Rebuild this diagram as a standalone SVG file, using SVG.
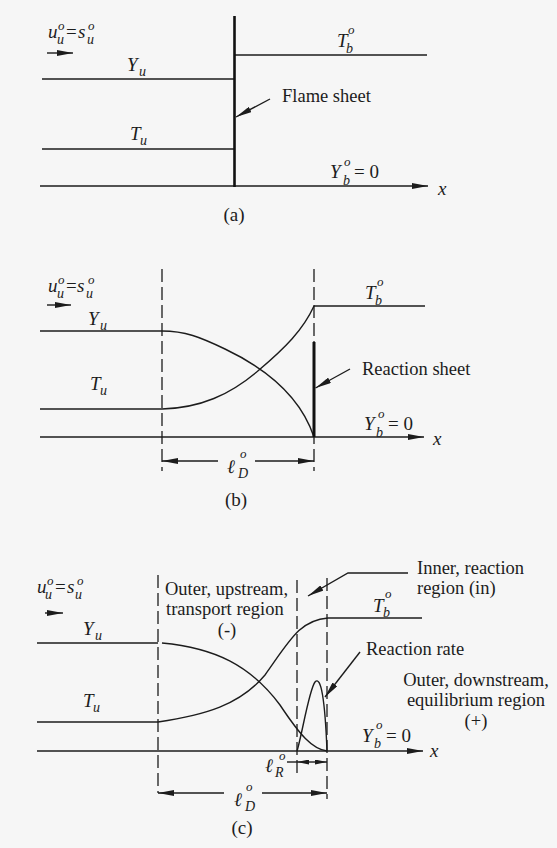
<svg xmlns="http://www.w3.org/2000/svg" width="557" height="848" viewBox="0 0 557 848">
<defs>
<style>
.ln{stroke:#1c1c1c;stroke-width:1.4;fill:none}
.dash{stroke:#1c1c1c;stroke-width:1.3;fill:none;stroke-dasharray:13 5}
.thick{stroke:#111;stroke-width:2.6;fill:none}
.t{font-family:"Liberation Serif","Times New Roman",serif;font-size:18.5px;fill:#1c1c1c}
.m{font-family:"Liberation Serif","Times New Roman",serif;font-style:italic;font-size:19px;fill:#1c1c1c}
.sb{font-size:14px}
.sp{font-size:13px}
.up{font-style:normal}
</style>
<marker id="ah" viewBox="0 0 16 6" refX="16" refY="3" markerWidth="16" markerHeight="6" markerUnits="userSpaceOnUse" orient="auto">
<path d="M0,0 L16,3 L0,6 z" fill="#1c1c1c"/>
</marker>
<marker id="ahs" viewBox="0 0 12 5" refX="12" refY="2.5" markerWidth="12" markerHeight="5" markerUnits="userSpaceOnUse" orient="auto">
<path d="M0,0 L12,2.5 L0,5 z" fill="#1c1c1c"/>
</marker>
</defs>
<rect width="557" height="848" fill="#f6f6f6"/>

<!-- Panel (a) -->
<g id="panel-a">
<g id="a-labels">
<text class="m" x="48" y="38">u<tspan class="sb" x="57" y="44">u</tspan><tspan class="sp" x="58" y="30">o</tspan><tspan class="up" x="66" y="38">=</tspan><tspan x="78" y="38">s</tspan><tspan class="sb" x="87" y="44">u</tspan><tspan class="sp" x="88" y="30">o</tspan></text>
<text class="m" x="127" y="71">Y<tspan class="sb" x="139" y="76">u</tspan></text>
<text class="m" x="130" y="140">T<tspan class="sb" x="140" y="145">u</tspan></text>
<text class="m" x="337" y="47">T<tspan class="sb" x="346" y="53">b</tspan><tspan class="sp" x="348" y="34">o</tspan></text>
<text class="m" x="330" y="178">Y<tspan class="sb" x="343" y="185">b</tspan><tspan class="sp" x="344" y="166">o</tspan><tspan class="up" x="354" y="178">= 0</tspan></text>
<text class="m" x="438" y="195">x</text>
<text class="t" x="282" y="102">Flame sheet</text>
<text class="t" x="234" y="221" text-anchor="middle" style="font-size:19px">(a)</text>
</g>
<g id="a-connectors">
<line class="ln" x1="47" y1="53" x2="73" y2="53" marker-end="url(#ah)"/>
<line class="ln" x1="42" y1="79" x2="234" y2="79"/>
<line class="ln" x1="42" y1="149" x2="234" y2="149"/>
<line class="ln" x1="235" y1="55" x2="427" y2="55"/>
<line class="ln" x1="40" y1="186" x2="428" y2="186" marker-end="url(#ah)"/>
<line class="thick" x1="234.5" y1="16" x2="234.5" y2="187"/>
<line class="ln" x1="270" y1="99" x2="236" y2="117" marker-end="url(#ah)"/>
</g>
</g>

<!-- Panel (b) -->
<g id="panel-b">
<g id="b-labels">
<text class="m" x="48" y="292">u<tspan class="sb" x="57" y="298">u</tspan><tspan class="sp" x="58" y="284">o</tspan><tspan class="up" x="66" y="292">=</tspan><tspan x="77" y="292">s</tspan><tspan class="sb" x="86" y="298">u</tspan><tspan class="sp" x="88" y="284">o</tspan></text>
<text class="m" x="88" y="325">Y<tspan class="sb" x="100" y="330">u</tspan></text>
<text class="m" x="90" y="390">T<tspan class="sb" x="100" y="395">u</tspan></text>
<text class="m" x="365" y="299">T<tspan class="sb" x="375" y="305">b</tspan><tspan class="sp" x="377" y="286">o</tspan></text>
<text class="m" x="364" y="430">Y<tspan class="sb" x="376" y="437">b</tspan><tspan class="sp" x="378" y="418">o</tspan><tspan class="up" x="388" y="430">= 0</tspan></text>
<text class="m" x="433" y="445">x</text>
<text class="m" x="227" y="473">ℓ<tspan class="sb" x="238" y="478">D</tspan><tspan class="sp" x="240" y="458">o</tspan></text>
<text class="t" x="362" y="375">Reaction sheet</text>
<text class="t" x="236" y="506" text-anchor="middle" style="font-size:19px">(b)</text>
</g>
<g id="b-connectors">
<line class="ln" x1="47" y1="305" x2="71" y2="305" marker-end="url(#ah)"/>
<line class="ln" x1="40" y1="331" x2="162" y2="331"/>
<line class="ln" x1="40" y1="409" x2="162" y2="409"/>
<path class="ln" d="M162,331 C185,331 200,337 225,349 C265,368 300,395 314,437"/>
<path class="ln" d="M162,409 C200,408 230,395 259,370 C285,348 303,330 314,306"/>
<line class="ln" x1="314" y1="306" x2="425" y2="306"/>
<line class="ln" x1="40" y1="437" x2="424" y2="437" marker-end="url(#ah)"/>
<line class="dash" x1="162" y1="269" x2="162" y2="471"/>
<line class="dash" x1="314" y1="269" x2="314" y2="471"/>
<line class="thick" x1="314" y1="342" x2="314" y2="437" style="stroke-width:3"/>
<line class="ln" x1="350" y1="369" x2="315.5" y2="388" marker-end="url(#ah)"/>
<line class="ln" x1="218" y1="461" x2="162" y2="461" marker-end="url(#ah)"/>
<line class="ln" x1="255" y1="461" x2="314" y2="461" marker-end="url(#ah)"/>
</g>
</g>

<!-- Panel (c) -->
<g id="panel-c">
<g id="c-labels">
<text class="m" x="37" y="593">u<tspan class="sb" x="45" y="599">u</tspan><tspan class="sp" x="47" y="585">o</tspan><tspan class="up" x="55" y="593">=</tspan><tspan x="67" y="593">s</tspan><tspan class="sb" x="75" y="599">u</tspan><tspan class="sp" x="77" y="585">o</tspan></text>
<text class="m" x="83" y="635">Y<tspan class="sb" x="95" y="640">u</tspan></text>
<text class="m" x="83" y="707">T<tspan class="sb" x="93" y="712">u</tspan></text>
<text class="m" x="373" y="612">T<tspan class="sb" x="383" y="617">b</tspan><tspan class="sp" x="385" y="598">o</tspan></text>
<text class="m" x="362" y="742">Y<tspan class="sb" x="374" y="748">b</tspan><tspan class="sp" x="376" y="729">o</tspan><tspan class="up" x="386" y="742">= 0</tspan></text>
<text class="m" x="430" y="757">x</text>
<text class="m" x="265" y="772">ℓ<tspan class="sb" x="275" y="777">R</tspan><tspan class="sp" x="279" y="760">o</tspan></text>
<text class="m" x="234" y="806">ℓ<tspan class="sb" x="245" y="811">D</tspan><tspan class="sp" x="246" y="791">o</tspan></text>
<text class="t" x="165" y="595">Outer, upstream,</text>
<text class="t" x="166" y="615">transport  region</text>
<text class="t" x="227" y="636" text-anchor="middle">(-)</text>
<text class="t" x="417" y="574">Inner, reaction</text>
<text class="t" x="417" y="594">region (in)</text>
<text class="t" x="366" y="655">Reaction rate</text>
<text class="t" x="476" y="686" text-anchor="middle">Outer, downstream,</text>
<text class="t" x="476" y="706" text-anchor="middle">equilibrium region</text>
<text class="t" x="476" y="727" text-anchor="middle">(+)</text>
<text class="t" x="242" y="834" text-anchor="middle" style="font-size:19px">(c)</text>
</g>
<g id="c-connectors">
<line class="ln" x1="45" y1="613" x2="63" y2="613" marker-end="url(#ah)"/>
<line class="ln" x1="37" y1="643" x2="158" y2="643"/>
<line class="ln" x1="37" y1="722" x2="158" y2="722"/>
<path class="ln" d="M162,643 C215,648 250,665 280,705 C300,735 312,749 327,751"/>
<path class="ln" d="M158,722 C205,715 240,705 265,675 C290,640 300,620 328,618"/>
<line class="ln" x1="328" y1="618" x2="422" y2="618"/>
<path class="ln" d="M297,751 C302,735 309,690 315,682 C321,675 325,700 327,751"/>
<line class="ln" x1="37" y1="751" x2="423" y2="751" marker-end="url(#ah)"/>
<line class="dash" x1="158" y1="575" x2="158" y2="793"/>
<line class="dash" x1="297" y1="580" x2="297" y2="773"/>
<line class="dash" x1="327" y1="578" x2="327" y2="799"/>
<polyline class="ln" points="408,573 348,573 308,596" marker-end="url(#ah)"/>
<line class="ln" x1="360" y1="652" x2="325" y2="697" marker-end="url(#ah)"/>
<line class="ln" x1="287" y1="762" x2="297" y2="762"/>
<line class="ln" x1="312" y1="762" x2="297" y2="762" marker-end="url(#ahs)"/>
<line class="ln" x1="312" y1="762" x2="327" y2="762" marker-end="url(#ahs)"/>
<line class="ln" x1="224" y1="793" x2="158" y2="793" marker-end="url(#ah)"/>
<line class="ln" x1="262" y1="793" x2="327" y2="793" marker-end="url(#ah)"/>
</g>
</g>
</svg>
